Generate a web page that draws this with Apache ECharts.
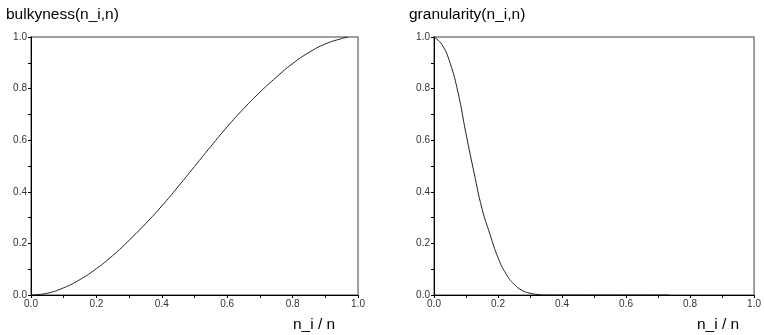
<!DOCTYPE html>
<html>
<head>
<meta charset="utf-8">
<script src="https://cdn.jsdelivr.net/npm/echarts@6/dist/echarts.min.js"></script>
<style>html,body{margin:0;padding:0;background:#fff}#c{width:764px;height:335px}</style>
</head>
<body>
<div id="c"></div>
<script>
var titles = ["bulkyness(n_i,n)", "granularity(n_i,n)"];
var axisName = "n_i / n";
var bulkX = [0, 0.05, 0.1, 0.15, 0.2, 0.25, 0.3, 0.35, 0.4, 0.45, 0.5, 0.55, 0.6, 0.65, 0.7, 0.75, 0.8, 0.85, 0.9, 0.95, 0.97];
var bulkY = [0, 0.007, 0.028, 0.06, 0.102, 0.153, 0.212, 0.276, 0.345, 0.42, 0.498, 0.576, 0.652, 0.722, 0.786, 0.844, 0.897, 0.94, 0.973, 0.994, 1.0];
var granX = [0, 0.025, 0.05, 0.075, 0.1, 0.125, 0.15, 0.175, 0.2, 0.225, 0.25, 0.275, 0.3, 0.325, 0.35, 0.4, 0.5, 0.6, 0.7, 0.735];
var granY = [1.0, 0.97, 0.9, 0.785, 0.625, 0.475, 0.335, 0.235, 0.145, 0.082, 0.042, 0.018, 0.007, 0.002, 0, 0, 0, 0, 0, 0];

function pairs(xs, ys) { return xs.map(function (x, i) { return [x, ys[i]]; }); }

var FONT = 'Liberation Sans, Arial, sans-serif';
var grids = [
  {left: 31, width: 327, top: 37, height: 258},
  {left: 434, width: 327, top: 37, height: 258}
];
function mkAxis(i) {
  return {
    type: 'value', gridIndex: i, min: 0, max: 1, interval: 0.2,
    axisLine: {show: true, lineStyle: {color: '#000', width: 1}},
    axisTick: {show: true, length: 3, lineStyle: {color: '#000'}},
    minorTick: {show: true, splitNumber: 2, length: 3, lineStyle: {color: '#000'}},
    splitLine: {show: false},
    axisLabel: {color: '#333', fontSize: 10, fontFamily: FONT, margin: 4,
      formatter: function (v) { return v.toFixed(1); }}
  };
}
function titleAt(text, left, top) {
  return {text: text, left: left, top: top, padding: 0,
    textStyle: {fontSize: 15.5, fontWeight: 'normal', color: '#000', fontFamily: FONT}};
}

var chart = echarts.init(document.getElementById('c'), null, {renderer: 'canvas'});
chart.setOption({
  backgroundColor: '#fff',
  animation: false,
  title: [
    titleAt(titles[0], 6, 7),
    titleAt(titles[1], 409, 7),
    titleAt(axisName, 293, 317),
    titleAt(axisName, 697, 317)
  ],
  grid: grids.map(function (g) {
    return Object.assign({show: true, borderColor: '#808080', borderWidth: 1.5, backgroundColor: '#fff'}, g);
  }),
  xAxis: [mkAxis(0), mkAxis(1)],
  yAxis: [mkAxis(0), mkAxis(1)],
  series: [
    {type: 'line', xAxisIndex: 0, yAxisIndex: 0, data: pairs(bulkX, bulkY), smooth: true, showSymbol: false,
      lineStyle: {color: '#222', width: 1}},
    {type: 'line', xAxisIndex: 1, yAxisIndex: 1, data: pairs(granX, granY), smooth: true, showSymbol: false,
      lineStyle: {color: '#222', width: 1}}
  ]
});
</script>
</body>
</html>
